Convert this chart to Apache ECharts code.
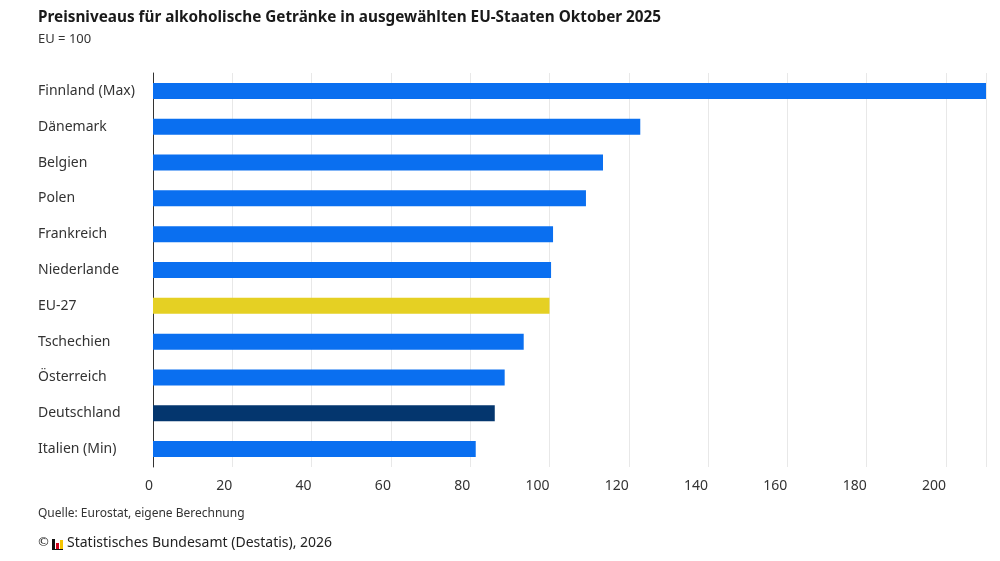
<!DOCTYPE html>
<html>
<head>
<meta charset="utf-8">
<script src="https://cdn.jsdelivr.net/npm/echarts@6/dist/echarts.min.js"></script>
<style>
html,body{margin:0;padding:0;background:#fff;}
#chart{width:1000px;height:561px;}
</style>
</head>
<body>
<div id="chart"></div>
<script>
const categories = ["Finnland (Max)","Dänemark","Belgien","Polen","Frankreich","Niederlande","EU-27","Tschechien","Österreich","Deutschland","Italien (Min)"];
const values = [210.1,122.9,113.5,109.2,100.9,100.4,100.0,93.5,88.7,86.2,81.4];
const barColors = ["#0A6FF0","#0A6FF0","#0A6FF0","#0A6FF0","#0A6FF0","#0A6FF0","#E5D023","#0A6FF0","#0A6FF0","#04366E","#0A6FF0"];
const xTicks = [0,20,40,60,80,100,120,140,160,180,200];

const FONT = '"Noto Sans", sans-serif';
const chart = echarts.init(document.getElementById('chart'));
chart.setOption({
  animation:false,
  textStyle:{fontFamily:FONT},
  title:[
    {text:'Preisniveaus für alkoholische Getränke in ausgewählten EU-Staaten Oktober 2025',left:38,top:10,padding:0,
     textStyle:{fontFamily:FONT,fontSize:15.3,fontWeight:'bold',color:'#1a1a1a'}},
    {text:'EU = 100',left:38,top:33,padding:0,textStyle:{fontFamily:FONT,fontSize:13,fontWeight:'normal',color:'#333'}},
    {text:'Quelle: Eurostat, eigene Berechnung',left:38,top:508,padding:0,textStyle:{fontFamily:FONT,fontSize:12,fontWeight:'normal',color:'#333'}},
    {text:'Statistisches Bundesamt (Destatis), 2026',left:67,top:536,padding:0,textStyle:{fontFamily:FONT,fontSize:14,fontWeight:'normal',color:'#222'}}
  ],
  graphic:[
    {type:'text',left:37,top:536,style:{text:'©',fontFamily:'"DejaVu Sans", sans-serif',fontSize:13,fill:'#222'}},
    {type:'rect',shape:{x:52,y:539,width:3,height:10},style:{fill:'#111'}},
    {type:'rect',shape:{x:56,y:543,width:3,height:6},style:{fill:'#d0021b'}},
    {type:'rect',shape:{x:60,y:540,width:3,height:9},style:{fill:'#f5c400'}},
    {type:'rect',shape:{x:52,y:549,width:11,height:1},style:{fill:'#111'}}
  ],
  grid:{left:153,right:14,top:73,bottom:94,containLabel:false},
  xAxis:{
    type:'value',min:0,max:Math.max(...values),interval:20,
    axisLine:{show:false},axisTick:{show:false},
    splitLine:{show:true,lineStyle:{color:'#e8e8e8',width:1}},
    axisLabel:{color:'#333',fontSize:14,fontFamily:FONT,margin:12,align:'right',showMaxLabel:false,
      formatter:v=>xTicks.includes(v)?String(v):''}
  },
  yAxis:{
    type:'category',data:categories,inverse:true,
    axisLine:{show:true,lineStyle:{color:'#333',width:1}},
    axisTick:{show:false},
    axisLabel:{color:'#333',fontSize:14,fontFamily:FONT,align:'left',margin:115}
  },
  series:[{
    type:'bar',barWidth:16,
    data:values.map((v,i)=>({value:v,itemStyle:{color:barColors[i]}}))
  }]
});
</script>
</body>
</html>
